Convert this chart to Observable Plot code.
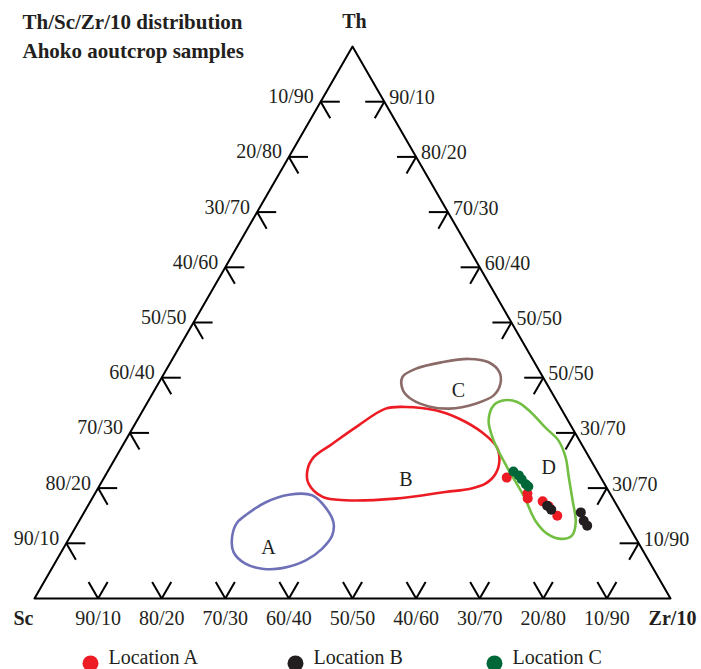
<!DOCTYPE html>
<html><head><meta charset="utf-8">
<script src="https://cdn.jsdelivr.net/npm/d3@7"></script>
<script src="https://cdn.jsdelivr.net/npm/@observablehq/plot@0.6"></script>
<style>body{margin:0;background:#fff} svg{display:block}</style>
</head><body><div id="chart"></div>
<script>
// ---------- data ----------
const titleLines = ["Th/Sc/Zr/10 distribution", "Ahoko aoutcrop samples"];
const apexNames = ["Th", "Sc", "Zr/10"];
const tickFractions = [0.1, 0.2, 0.3, 0.4, 0.5, 0.6, 0.7, 0.8, 0.9];
const leftLabels = ["10/90", "20/80", "30/70", "40/60", "50/50", "60/40", "70/30", "80/20", "90/10"];
const rightLabels = ["90/10", "80/20", "70/30", "60/40", "50/50", "50/50", "30/70", "30/70", "10/90"];
const bottomLabels = ["90/10", "80/20", "70/30", "60/40", "50/50", "40/60", "30/70", "20/80", "10/90"];

// samples as [Th, Sc, Zr/10] in %
const locationA = [[21.9, 14.8, 63.3], [19.0, 13.0, 68.0], [18.1, 13.4, 68.5], [17.6, 11.3, 71.1], [16.7, 10.8, 72.5], [15.0, 10.3, 74.7]];
const locationB = [[16.8, 11.0, 72.2], [16.1, 10.7, 73.2], [15.6, 6.3, 78.1], [14.1, 6.6, 79.3], [13.2, 6.5, 80.3]];
const locationC = [[23.0, 13.2, 63.8], [22.3, 12.7, 65.0], [21.6, 12.6, 65.8], [20.7, 12.4, 66.9], [20.3, 12.2, 67.5]];
const seriesNames = ["Location A", "Location B", "Location C"];
const seriesColors = ["#ed1c24", "#231f20", "#006838"];

// provenance fields, outline vertices as [Th, Zr/10] in % (Sc = 100 - Th - Zr)
const fieldNames = ["A", "B", "C", "D"];
const fieldColors = ["#6f71b8", "#ed1c24", "#8b6b68", "#72bf44"];
const fieldA = [[15.3, 25.8], [17.4, 27.6], [18.8, 30.6], [18.7, 34.3], [16.5, 37.5], [13.8, 40.1], [11.4, 41.1], [9.0, 40.7], [6.9, 39.2], [5.5, 36.2], [5.4, 33.1], [6.3, 30.0], [8.4, 27.1], [11.4, 25.4], [13.8, 25.0]];
const fieldB = [[34.4, 38.0], [34.7, 41.0], [34.1, 46.0], [32.6, 50.4], [30.1, 55.3], [27.4, 59.0], [25.0, 60.6], [22.6, 61.2], [20.8, 60.5], [19.9, 58.6], [19.3, 55.0], [18.1, 47.7], [17.8, 40.0], [18.4, 36.1], [20.8, 32.7], [23.2, 31.3], [25.6, 31.1], [28.0, 32.8], [31.0, 35.0]];
const fieldC = [[40.1, 37.8], [41.6, 39.1], [42.8, 42.7], [43.4, 46.6], [42.8, 50.0], [41.0, 52.6], [38.9, 53.8], [36.8, 53.8], [35.3, 51.7], [34.4, 48.0], [34.8, 44.6], [36.0, 41.4], [37.7, 39.1]];
const fieldD = [[35.0, 54.7], [35.9, 55.9], [35.6, 58.1], [33.8, 61.1], [31.0, 64.8], [28.6, 68.1], [25.6, 70.7], [22.0, 73.0], [17.8, 75.7], [13.8, 78.2], [11.4, 78.8], [10.8, 77.3], [11.7, 74.8], [14.1, 71.7], [18.4, 67.8], [23.8, 62.4], [28.6, 57.9], [32.2, 55.3]];
const fieldLabelPos = [[9.2, 32.2], [21.6, 47.6], [37.7, 47.8], [23.7, 69.0]];

// ---------- ternary projection ----------
const X = (th, zr) => (zr + th / 2) / 100;
const Y = (th) => th / 100;
const serif = "'Liberation Serif', 'DejaVu Serif', serif";
const ink = "#231f20";

const apexes = [{th: 100, zr: 0}, {th: 0, zr: 0}, {th: 0, zr: 100}];

// edge points
const leftPts = tickFractions.map((f, i) => ({x: 0.5 * (1 - f), y: 1 - f, label: leftLabels[i]}));
const rightPts = tickFractions.map((f, i) => ({x: f + 0.5 * (1 - f), y: 1 - f, label: rightLabels[i]}));
const bottomPts = tickFractions.map((f, i) => ({x: f, y: 0, label: bottomLabels[i]}));
const L = 0.03;
const segs = [];
leftPts.forEach(p => { segs.push([p.x, p.y, p.x + L, p.y]); segs.push([p.x, p.y, p.x + L / 2, p.y - L]); });
rightPts.forEach(p => { segs.push([p.x, p.y, p.x - L, p.y]); segs.push([p.x, p.y, p.x - L / 2, p.y - L]); });
bottomPts.forEach(p => { segs.push([p.x, p.y, p.x - L / 2, p.y + L]); segs.push([p.x, p.y, p.x + L / 2, p.y + L]); });

const fields = [fieldA, fieldB, fieldC, fieldD];
const series = [locationA, locationB, locationC];

const marks = [];
// triangle
marks.push(Plot.line(apexes, {x: d => X(d.th, d.zr), y: d => Y(d.th), curve: "linear-closed", stroke: "#000", strokeWidth: 2}));
// ticks
marks.push(Plot.link(segs, {x1: d => d[0], y1: d => d[1], x2: d => d[2], y2: d => d[3], stroke: "#000", strokeWidth: 2}));
// fields
fields.forEach((f, i) => {
  marks.push(Plot.line(f, {x: d => X(d[0], d[1]), y: d => Y(d[0]), curve: "catmull-rom-closed", stroke: fieldColors[i], strokeWidth: 2.6}));
});
marks.push(Plot.text(fieldLabelPos, {x: d => X(d[0], d[1]), y: d => Y(d[0]), text: (d, i) => fieldNames[i], fontFamily: serif, fontSize: 20, fill: ink}));
// samples
series.forEach((s, i) => {
  marks.push(Plot.dot(s, {x: d => X(d[0], d[2]), y: d => Y(d[0]), r: 5, fill: seriesColors[i], stroke: "none"}));
});
// tick labels
marks.push(Plot.text(leftPts, {x: "x", y: "y", text: "label", textAnchor: "end", dx: -7, dy: -5, fontFamily: serif, fontSize: 20, fill: ink}));
marks.push(Plot.text(rightPts, {x: "x", y: "y", text: "label", textAnchor: "start", dx: 5, dy: -4, fontFamily: serif, fontSize: 20, fill: ink}));
marks.push(Plot.text(bottomPts, {x: "x", y: "y", text: "label", dy: 20, fontFamily: serif, fontSize: 20, fill: ink}));
// apex labels
marks.push(Plot.text([apexes[0]], {x: d => X(d.th, d.zr), y: d => Y(d.th), text: () => apexNames[0], dx: 2, dy: -25, fontFamily: serif, fontSize: 20, fontWeight: "bold", fill: ink}));
marks.push(Plot.text([apexes[1]], {x: d => X(d.th, d.zr), y: d => Y(d.th), text: () => apexNames[1], dx: -11, dy: 20, fontFamily: serif, fontSize: 20, fontWeight: "bold", fill: ink}));
marks.push(Plot.text([apexes[2]], {x: d => X(d.th, d.zr), y: d => Y(d.th), text: () => apexNames[2], dx: 2, dy: 20, fontFamily: serif, fontSize: 20, fontWeight: "bold", fill: ink}));
// title
titleLines.forEach((t, i) => {
  marks.push(Plot.text([t], {frameAnchor: "top-left", textAnchor: "start", lineAnchor: "bottom", dx: -12, dy: -18 + i * 29, fontFamily: serif, fontSize: 21, fontWeight: "bold", fill: ink}));
});
// legend
const legendDx = [56, 261, 460];
seriesNames.forEach((n, i) => {
  marks.push(Plot.dot([n], {frameAnchor: "bottom-left", dx: legendDx[i], dy: 65, r: 8, fill: seriesColors[i], stroke: "none"}));
  marks.push(Plot.text([n], {frameAnchor: "bottom-left", textAnchor: "start", dx: legendDx[i] + 18, dy: 65, fontFamily: serif, fontSize: 20, fill: ink}));
});

const chart = Plot.plot({
  width: 701, height: 669,
  marginLeft: 34, marginRight: 31, marginTop: 46, marginBottom: 71,
  x: {domain: [0, 1], axis: null},
  y: {domain: [0, 1], axis: null},
  style: {background: "#fff", fontFamily: serif, overflow: "visible"},
  marks
});
document.getElementById("chart").appendChild(chart);
</script>
</body></html>
